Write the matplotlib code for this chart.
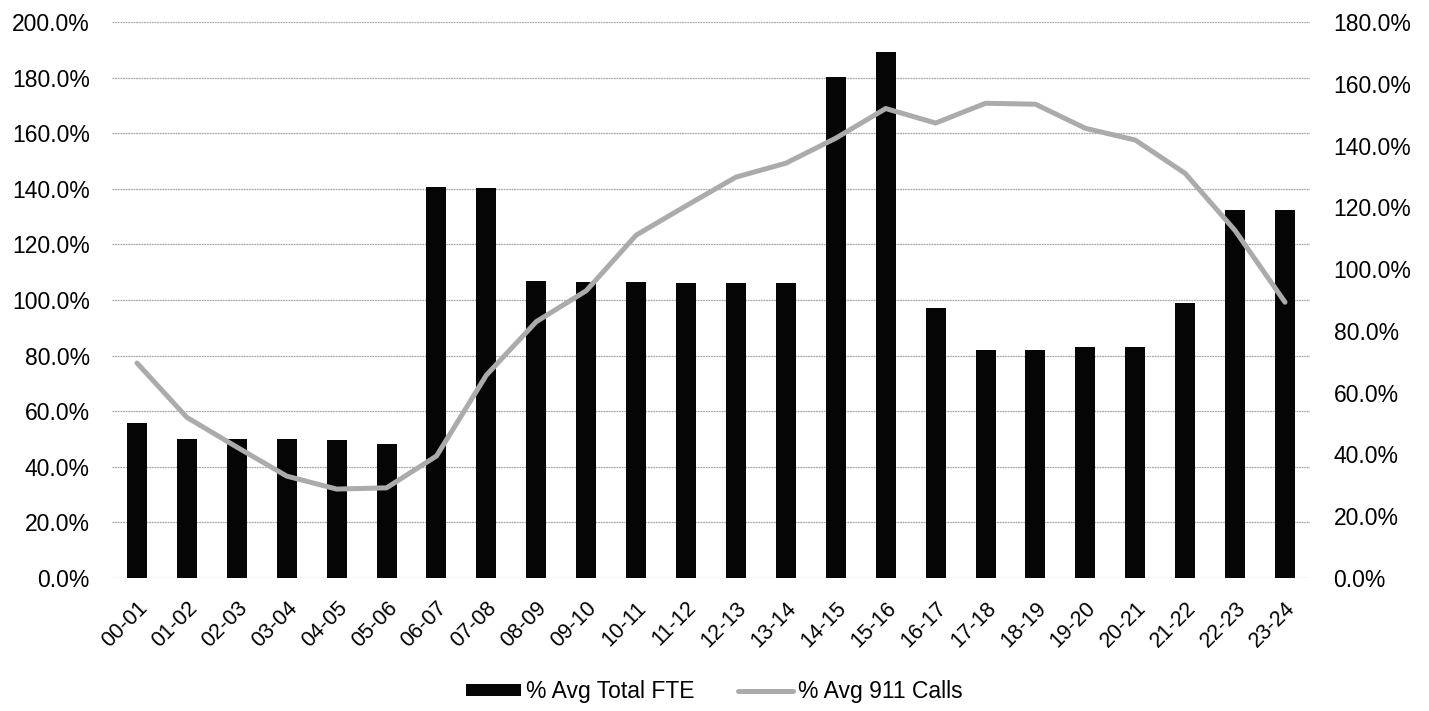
import numpy as np
import matplotlib.pyplot as plt
from matplotlib.ticker import PercentFormatter

plt.rcParams['font.family'] = ['Liberation Sans', 'DejaVu Sans']

# hourly slots
hours = ['00-01', '01-02', '02-03', '03-04', '04-05', '05-06', '06-07', '07-08',
         '08-09', '09-10', '10-11', '11-12', '12-13', '13-14', '14-15', '15-16',
         '16-17', '17-18', '18-19', '19-20', '20-21', '21-22', '22-23', '23-24']

# % of average total FTE on duty (left axis)
fte_pct = [55.7, 49.9, 49.9, 49.9, 49.6, 48.2, 140.5, 140.2,
           106.8, 106.5, 106.5, 106.2, 106.2, 106.2, 180.3, 189.3,
           97.0, 82.0, 82.0, 83.2, 83.2, 99.0, 132.4, 132.4]

# % of average 911 calls (right axis)
calls_pct = [69.6, 52.0, 42.4, 33.0, 28.8, 29.2, 39.5, 65.7,
             83.0, 93.0, 111.0, 120.5, 129.8, 134.3, 142.4, 152.0,
             147.3, 153.7, 153.4, 145.6, 141.8, 131.0, 112.5, 89.3]

x = np.arange(len(hours))

fig = plt.figure(figsize=(14.29, 7.11), dpi=100)
ax = fig.add_axes([0.0784, 0.187, 0.8383, 0.782])
ax2 = ax.twinx()

bars = ax.bar(x, fte_pct, width=0.4, color='#050505', zorder=2,
              label='% Avg Total FTE')
line, = ax2.plot(x, calls_pct, color='#ababab', lw=3.6, solid_joinstyle='round',
                 solid_capstyle='round', zorder=3, label='% Avg 911 Calls')

ax.set_xlim(-0.5, len(hours) - 0.5)
ax.set_ylim(0, 200)
ax.set_yticks(np.arange(0, 201, 20))
ax2.set_ylim(0, 180)
ax2.set_yticks(np.arange(0, 181, 20))
ax.yaxis.set_major_formatter(PercentFormatter(decimals=1))
ax2.yaxis.set_major_formatter(PercentFormatter(decimals=1))

ax.grid(axis='y', color='#a8a8a8', lw=0.9, ls=(0, (1.5, 0.6)), zorder=0)
ax.set_axisbelow(True)

for a in (ax, ax2):
    for s in a.spines.values():
        s.set_visible(False)
    a.tick_params(length=0, labelsize=16.5)
ax.tick_params(axis='y', pad=16)
ax2.tick_params(axis='y', pad=17)

ax.set_xticks(x)
ax.set_xticklabels(hours, rotation=45, ha='right', rotation_mode='anchor',
                   fontsize=15.5)
ax.tick_params(axis='x', pad=14)

# line axis sits on top of the bars
ax2.set_zorder(ax.get_zorder() + 1)

fig.legend([bars, line], ['% Avg Total FTE', '% Avg 911 Calls'],
           loc='center', bbox_to_anchor=(0.5, 0.027), ncol=2, frameon=False,
           fontsize=16.5, handlelength=2.4, handleheight=0.45, columnspacing=1.9,
           handletextpad=0.22, borderpad=0)

fig.savefig('out.png', dpi=100)
